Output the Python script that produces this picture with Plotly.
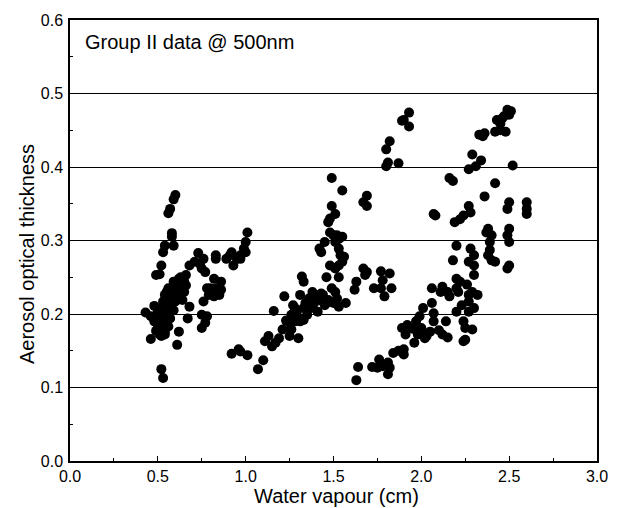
import plotly.graph_objects as go

# Cluster 1 (x ~0.4-0.8)
x1 = [0.43,0.46,0.46,0.48,0.49,0.51,0.52,0.52,0.53,0.53,0.54,0.56,0.57,0.60,0.59,0.58,0.58,0.59,0.56,
      0.48,0.50,0.51,0.52,0.54,0.54,0.55,0.56,0.58,0.59,0.60,0.61,0.62,0.63,0.60,0.61,0.61,0.62,0.67,0.68,
      0.68,0.71,0.73,0.74,0.76,0.75,0.77,0.78,0.76,0.75,0.75,0.77,0.78,0.66,0.65,0.63,0.64,0.65,0.66,
      0.52,0.53,0.54,0.55,0.51,0.50,0.49,0.53,0.54,0.56,0.57,0.58,0.59,0.55,0.57,0.56,0.54,
      0.50,0.52,0.55,0.57,0.59,0.53,0.56]
y1 = [0.202,0.197,0.166,0.211,0.253,0.254,0.266,0.125,0.113,0.284,0.293,0.337,0.343,0.362,0.356,0.310,0.305,0.293,0.235,
      0.190,0.181,0.172,0.170,0.176,0.190,0.200,0.208,0.217,0.226,0.235,0.239,0.248,0.250,0.217,0.226,0.158,0.176,0.194,0.210,
      0.266,0.271,0.283,0.268,0.275,0.262,0.257,0.235,0.217,0.199,0.181,0.188,0.197,0.253,0.244,0.230,0.219,0.230,0.239,
      0.208,0.217,0.226,0.230,0.199,0.203,0.177,0.192,0.200,0.217,0.226,0.235,0.244,0.210,0.194,0.183,0.172,
      0.186,0.184,0.222,0.212,0.205,0.178,0.197]

# Cluster 2 (x ~0.8-1.02)
x2 = [0.83,0.83,0.82,0.83,0.85,0.82,0.86,0.86,0.80,0.79,0.89,0.91,0.92,0.93,0.95,0.97,0.99,1.00,1.01,1.00,0.97,
      0.92,0.96,0.97,1.01]
y2 = [0.275,0.280,0.248,0.235,0.226,0.224,0.244,0.233,0.235,0.226,0.275,0.280,0.284,0.266,0.275,0.280,0.289,0.298,0.311,0.284,0.275,
      0.146,0.152,0.149,0.144]

# Cluster 3 (x ~1.07-1.57)
x3 = [1.07,1.10,1.11,1.13,1.15,1.17,1.16,1.19,1.21,1.22,1.23,1.25,1.26,1.26,1.28,1.29,1.30,1.31,1.31,1.32,1.33,1.33,
      1.34,1.35,1.36,1.37,1.38,1.40,1.41,1.42,1.43,1.45,1.44,1.46,1.46,1.47,1.48,1.49,1.49,1.51,1.48,1.50,1.51,1.52,1.53,
      1.55,1.53,1.54,1.55,1.56,1.53,1.51,1.48,1.49,1.51,1.52,1.53,1.53,1.55,1.57,1.50,1.47,1.45,
      1.38,1.39,1.42,1.43,1.33,1.28,1.25,1.27,1.31]
y3 = [0.125,0.137,0.163,0.170,0.156,0.161,0.204,0.167,0.179,0.224,0.191,0.170,0.179,0.199,0.208,0.203,0.167,0.226,0.190,0.251,0.244,0.208,
      0.215,0.199,0.221,0.208,0.217,0.226,0.203,0.289,0.284,0.298,0.226,0.215,0.250,0.325,0.330,0.347,0.385,0.336,0.311,0.307,0.298,0.307,0.302,
      0.305,0.289,0.280,0.271,0.278,0.266,0.262,0.266,0.235,0.230,0.221,0.210,0.250,0.368,0.215,0.215,0.219,0.212,
      0.230,0.215,0.219,0.228,0.192,0.190,0.188,0.212,0.194]

# Cluster 4 (x ~1.62-1.95)
x4 = [1.63,1.64,1.62,1.63,1.67,1.69,1.69,1.67,1.69,1.68,1.72,1.73,1.75,1.76,1.77,1.77,1.78,1.78,1.80,1.80,1.81,1.79,
      1.81,1.82,1.81,1.82,1.82,1.83,1.84,1.87,1.87,1.89,1.90,1.93,1.93,1.89,1.90,1.90,1.91,1.92,1.95]
y4 = [0.110,0.128,0.233,0.244,0.352,0.361,0.347,0.262,0.257,0.253,0.128,0.235,0.127,0.138,0.258,0.235,0.246,0.129,0.424,0.401,0.406,0.224,
      0.118,0.127,0.134,0.255,0.435,0.235,0.147,0.150,0.405,0.463,0.464,0.474,0.455,0.181,0.145,0.152,0.172,0.185,0.180]

# Cluster 5 (x ~1.96-2.60)
x5 = [1.96,1.97,1.98,1.99,2.00,2.01,2.01,2.02,2.03,2.05,2.06,2.06,2.07,2.07,2.07,2.08,2.10,2.11,2.12,2.12,2.14,2.15,
      2.15,2.16,2.16,2.18,2.18,2.19,2.20,2.20,2.20,2.20,2.21,2.22,2.22,2.23,2.24,2.24,2.24,2.25,2.25,2.26,2.27,2.27,
      2.27,2.27,2.27,2.27,2.28,2.29,2.29,2.29,2.30,2.30,2.30,2.31,2.32,2.30,2.28,
      2.33,2.34,2.35,2.36,2.36,2.37,2.38,2.38,2.39,2.39,2.40,2.40,2.42,2.42,2.42,2.43,2.45,2.45,2.46,2.47,2.48,2.49,
      2.50,2.51,2.50,2.49,2.50,2.49,2.50,2.50,2.49,2.52,2.60,2.60,2.60]
y5 = [0.161,0.190,0.172,0.197,0.181,0.172,0.208,0.167,0.170,0.176,0.235,0.215,0.201,0.190,0.336,0.334,0.178,0.230,0.237,0.172,0.190,0.230,
      0.168,0.224,0.385,0.273,0.381,0.325,0.293,0.248,0.203,0.235,0.230,0.244,0.329,0.212,0.190,0.163,0.334,0.181,0.165,0.240,0.397,0.271,
      0.226,0.203,0.347,0.217,0.338,0.230,0.179,0.417,0.266,0.253,0.208,0.401,0.226,0.280,0.289,
      0.444,0.409,0.442,0.446,0.360,0.311,0.316,0.280,0.298,0.287,0.273,0.307,0.271,0.378,0.448,0.464,0.459,0.450,0.466,0.469,0.448,0.478,
      0.471,0.476,0.352,0.343,0.316,0.307,0.298,0.266,0.262,0.402,0.352,0.343,0.336]

x_all = x1 + x2 + x3 + x4 + x5
y_all = y1 + y2 + y3 + y4 + y5

x_ticks = [0.0, 0.5, 1.0, 1.5, 2.0, 2.5, 3.0]
y_ticks = [0.0, 0.1, 0.2, 0.3, 0.4, 0.5, 0.6]

fig = go.Figure()
fig.add_trace(go.Scatter(
    x=x_all, y=y_all, mode="markers",
    marker=dict(color="black", size=10, line=dict(width=0)),
    showlegend=False,
))

font_family = "Liberation Sans, Arial, sans-serif"
fig.update_layout(
    width=620, height=508,
    margin=dict(l=70, r=21, t=16, b=47),
    paper_bgcolor="white", plot_bgcolor="white",
    font=dict(family=font_family, color="black", size=16),
    xaxis=dict(
        range=[0, 3.0], tickvals=x_ticks, ticktext=[f"{v:.1f}" for v in x_ticks],
        showgrid=False, zeroline=False, showline=True, linecolor="black", linewidth=1.5, mirror=True,
        ticks="inside", ticklen=5, tickcolor="black",
        minor=dict(ticks="inside", ticklen=3, dtick=0.25, tickcolor="black", showgrid=False),
        tickfont=dict(size=16), ticklabelstandoff=0,
    ),
    yaxis=dict(
        range=[0, 0.6], tickvals=y_ticks, ticktext=[f"{v:.1f}" for v in y_ticks],
        showgrid=True, gridcolor="black", gridwidth=1, zeroline=False,
        showline=True, linecolor="black", linewidth=1.5, mirror=True,
        ticks="inside", ticklen=5, tickcolor="black",
        minor=dict(ticks="inside", ticklen=3, dtick=0.05, tickcolor="black", showgrid=False),
        tickfont=dict(size=16), ticklabelstandoff=2,
    ),
    annotations=[
        dict(text="Group II data @ 500nm", x=0.0246, y=0.9506, xref="paper", yref="paper",
             xanchor="left", yanchor="middle", showarrow=False,
             font=dict(size=20, family=font_family)),
        dict(text="Water vapour (cm)", x=0.5, y=-0.0787, xref="paper", yref="paper",
             xanchor="center", yanchor="middle", xshift=3, showarrow=False,
             font=dict(size=20, family=font_family)),
        dict(text="Aerosol optical thickness", x=-0.0813, y=0.4697, xref="paper", yref="paper",
             xanchor="center", yanchor="middle", textangle=-90, showarrow=False,
             font=dict(size=20, family=font_family)),
    ],
)

fig.write_html("out.html")
